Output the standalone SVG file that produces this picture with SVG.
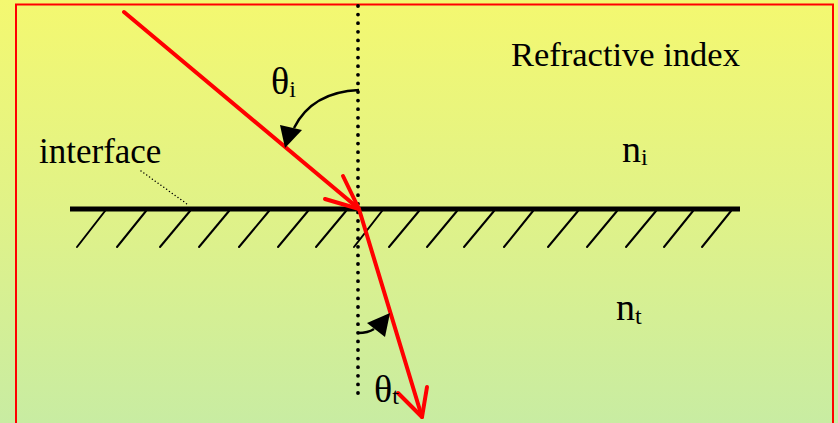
<svg xmlns="http://www.w3.org/2000/svg" width="838" height="423" viewBox="0 0 838 423">
<defs>
<linearGradient id="bg" x1="0" y1="0" x2="0" y2="1">
<stop offset="0" stop-color="#f4f870"/>
<stop offset="0.5" stop-color="#e0f288"/>
<stop offset="1" stop-color="#c8eca2"/>
</linearGradient>
<style>
.ray{stroke:#ff0000;stroke-width:4;fill:none;stroke-linecap:round;stroke-linejoin:round}
.hatch{stroke:#000;stroke-width:2;stroke-linecap:round}
.txt{font-family:"Liberation Serif","Times New Roman",serif;fill:#000}
.arc{stroke:#000;stroke-width:2.5;fill:none}
</style>
</defs>
<rect width="838" height="423" fill="url(#bg)"/>
<rect x="16" y="4.5" width="817" height="430" fill="none" stroke="#ff0000" stroke-width="2"/>

<g id="normal">
<line x1="358" y1="6" x2="358" y2="395" stroke="#000" stroke-width="3.8" stroke-linecap="round" stroke-dasharray="0 8.6"/>
</g>

<g id="interface">
<line x1="70" y1="209" x2="740" y2="209" stroke="#000" stroke-width="5"/>
<g class="hatch">
<line x1="105" y1="211" x2="77" y2="247"/>
<line x1="146" y1="211" x2="117" y2="247"/>
<line x1="190" y1="211" x2="160" y2="247"/>
<line x1="229" y1="211" x2="199" y2="247"/>
<line x1="269" y1="211" x2="239" y2="247"/>
<line x1="308" y1="211" x2="278" y2="247"/>
<line x1="346" y1="211" x2="316" y2="247"/>
<line x1="382" y1="211" x2="354" y2="247"/>
<line x1="419" y1="211" x2="389" y2="247"/>
<line x1="457" y1="211" x2="427" y2="247"/>
<line x1="494" y1="211" x2="464" y2="247"/>
<line x1="533" y1="211" x2="504" y2="247"/>
<line x1="578" y1="211" x2="548" y2="247"/>
<line x1="617" y1="211" x2="587" y2="247"/>
<line x1="656" y1="211" x2="626" y2="247"/>
<line x1="693" y1="211" x2="664" y2="247"/>
<line x1="731" y1="211" x2="702" y2="247"/>
</g>
</g>

<g id="label-interface">
<text class="txt" x="39" y="163" font-size="35">interface</text>
<line x1="141" y1="171" x2="187" y2="204" stroke="#000" stroke-width="1.5" stroke-linecap="round" stroke-dasharray="0 3.5"/>
</g>

<g id="connectors">
<g id="incident-ray">
<path class="ray" d="M124,12 L358,208"/>
<path class="ray" d="M343,176 L359,209 L325,199"/>
</g>
<g id="refracted-ray">
<path class="ray" d="M359,209 L422,417"/>
<path class="ray" d="M398,393 L422,417 L427,387"/>
</g>
<g id="angle-i">
<path class="arc" d="M359,90 Q312,92 294,128"/>
<polygon points="280,125 302,130 285,148" fill="#000"/>
</g>
<g id="angle-t">
<path class="arc" d="M358,333 Q368,333 374,329"/>
<polygon points="367,323 390,313 385,337" fill="#000"/>
</g>
</g>

<g id="label-theta-i">
<text class="txt" x="271" y="94" font-size="38">θ<tspan font-size="24" dy="3">i</tspan></text>
</g>
<g id="label-theta-t">
<text class="txt" x="374" y="402" font-size="38">θ<tspan font-size="24" dy="2">t</tspan></text>
</g>
<g id="label-refractive">
<text class="txt" x="511" y="66" font-size="34.5">Refractive index</text>
</g>
<g id="label-ni">
<text class="txt" x="622" y="162" font-size="38">n<tspan font-size="24" dy="3">i</tspan></text>
</g>
<g id="label-nt">
<text class="txt" x="616" y="320" font-size="38">n<tspan font-size="24" dy="4">t</tspan></text>
</g>
</svg>
